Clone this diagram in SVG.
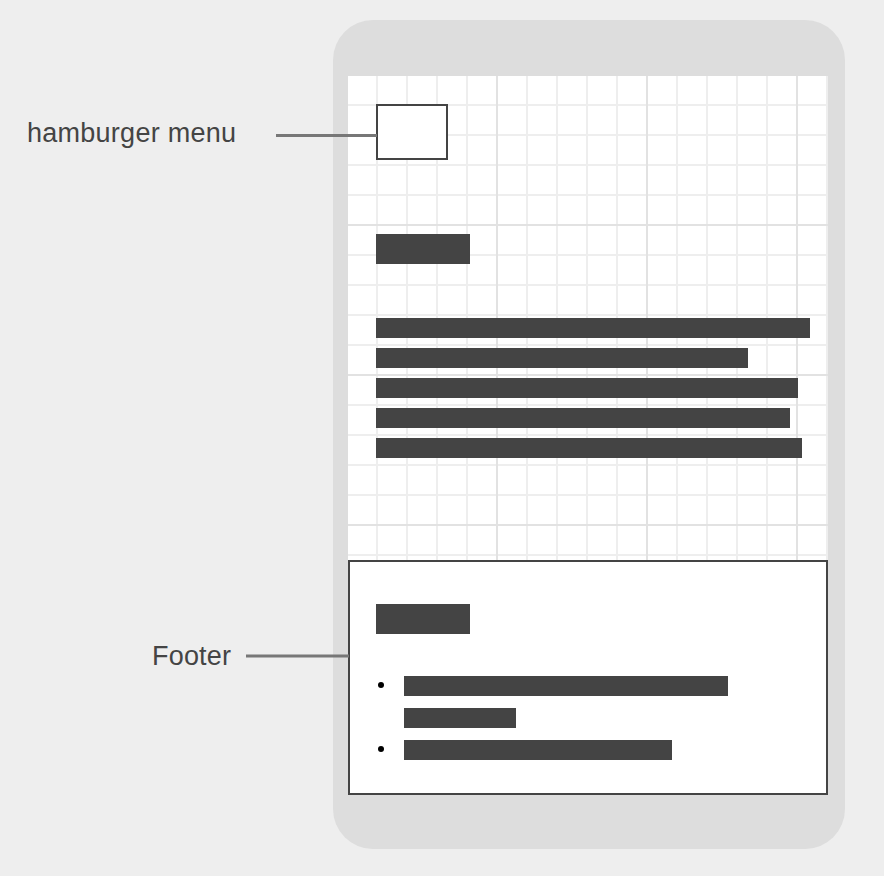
<svg xmlns="http://www.w3.org/2000/svg" width="884" height="876" viewBox="0 0 884 876">
  <defs>
    <style>
      .label { font-family: "Liberation Sans", Arial, sans-serif; font-size: 27px; fill: #444444; }
      .bar { fill: #444444; }
      .connector { stroke: #777777; stroke-width: 3; fill: none; }
      .outline { fill: #ffffff; stroke: #444444; stroke-width: 2; }
      .bullet { fill: #000000; }
    </style>
    <!-- 30px layout grid, heavier line every 5 cells -->
    <pattern id="minorGrid" x="376" y="104" width="30" height="30" patternUnits="userSpaceOnUse">
      <path d="M1 0 V30 M0 1 H30" stroke="#eeeeee" stroke-width="2" fill="none"/>
    </pattern>
    <pattern id="majorGrid" x="496" y="224" width="150" height="150" patternUnits="userSpaceOnUse">
      <path d="M1 0 V150 M0 1 H150" stroke="#e2e2e2" stroke-width="2" fill="none"/>
    </pattern>
    <clipPath id="screenClip">
      <rect x="348" y="76" width="480" height="484"/>
    </clipPath>
  </defs>

  <!-- page background -->
  <rect x="0" y="0" width="884" height="876" fill="#eeeeee"/>

  <!-- device body and screen -->
  <g id="device">
    <rect x="333" y="20" width="512" height="829" rx="40" ry="40" fill="#dddddd"/>
    <g clip-path="url(#screenClip)">
      <rect x="348" y="76" width="480" height="484" fill="#ffffff"/>
      <rect x="348" y="76" width="480" height="484" fill="url(#minorGrid)"/>
      <rect x="348" y="76" width="480" height="484" fill="url(#majorGrid)"/>
    </g>
  </g>

  <!-- page content -->
  <g id="hamburger">
    <rect class="outline" x="377" y="105" width="70" height="54"/>
  </g>

  <g id="heading">
    <rect class="bar" x="376" y="234" width="94" height="30"/>
  </g>

  <g id="paragraph">
    <rect class="bar" x="376" y="318" width="434" height="20"/>
    <rect class="bar" x="376" y="348" width="372" height="20"/>
    <rect class="bar" x="376" y="378" width="422" height="20"/>
    <rect class="bar" x="376" y="408" width="414" height="20"/>
    <rect class="bar" x="376" y="438" width="426" height="20"/>
  </g>

  <g id="footer">
    <rect class="outline" x="349" y="561" width="478" height="233"/>
    <rect class="bar" x="376" y="604" width="94" height="30"/>
    <circle class="bullet" cx="381" cy="685" r="3"/>
    <rect class="bar" x="404" y="676" width="324" height="20"/>
    <rect class="bar" x="404" y="708" width="112" height="20"/>
    <circle class="bullet" cx="381" cy="749" r="3"/>
    <rect class="bar" x="404" y="740" width="268" height="20"/>
  </g>

  <!-- callout connectors -->
  <g id="connectors">
    <line class="connector" x1="276" y1="135.5" x2="377" y2="135.5"/>
    <line class="connector" x1="246" y1="656" x2="349" y2="656"/>
  </g>

  <!-- callout labels -->
  <g id="label-hamburger">
    <text class="label" x="27" y="142" textLength="209" lengthAdjust="spacing">hamburger menu</text>
  </g>
  <g id="label-footer">
    <text class="label" x="152" y="665" textLength="79" lengthAdjust="spacing">Footer</text>
  </g>
</svg>
